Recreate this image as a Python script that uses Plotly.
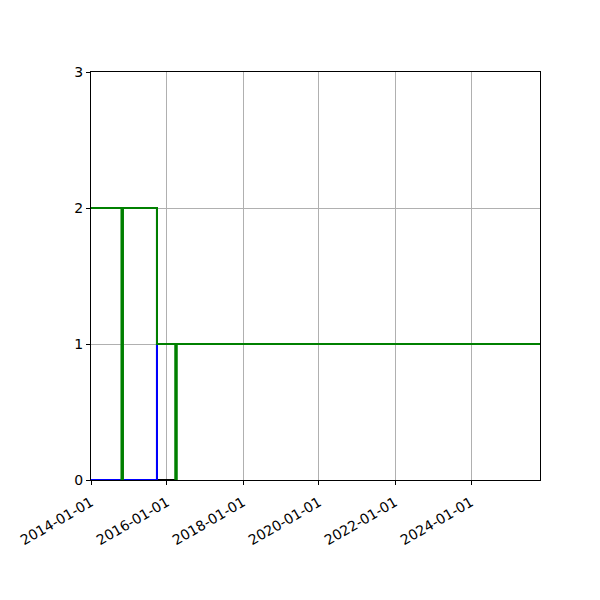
import plotly.graph_objects as go

# Step series (value holds until next date)
black_dates = ["2014-01-01", "2014-10-28", "2015-09-27", "2016-03-28", "2025-10-25"]
black_values = [0, 2, 0, 1, 1]

blue_dates = ["2014-01-01", "2015-09-27", "2025-10-25"]
blue_values = [0, 1, 1]

green_dates = ["2014-01-01", "2015-09-27", "2025-10-25"]
green_values = [2, 1, 1]

# Single-day events drawn as vertical strokes from 0
event_dates = ["2014-10-28", "2016-03-28"]
event_values = [2, 1]

x_start, x_end = "2014-01-01", "2025-10-25"
tick_dates = ["2014-01-01", "2016-01-01", "2018-01-01", "2020-01-01", "2022-01-01", "2024-01-01"]

fig = go.Figure()

fig.add_trace(go.Scatter(x=black_dates, y=black_values, mode="lines",
                         line=dict(color="black", width=2, shape="hv")))
fig.add_trace(go.Scatter(x=blue_dates, y=blue_values, mode="lines",
                         line=dict(color="#0000ff", width=2, shape="hv")))
fig.add_trace(go.Scatter(x=green_dates, y=green_values, mode="lines",
                         line=dict(color="#008000", width=2, shape="hv")))

ev_x, ev_y = [], []
for d, v in zip(event_dates, event_values):
    ev_x += [d, d, None]
    ev_y += [0, v, None]
fig.add_trace(go.Scatter(x=ev_x, y=ev_y, mode="lines",
                         line=dict(color="#008000", width=3.5)))

axis_style = dict(showline=True, linecolor="black", linewidth=1, mirror=True,
                  ticks="outside", ticklen=4, tickcolor="black", automargin=False,
                  showgrid=True, gridcolor="#b0b0b0", gridwidth=1, zeroline=False)

# page body adds an 8px offset, so margins are shifted to compensate
fig.update_layout(
    width=600, height=600,
    margin=dict(l=83, r=68, t=64, b=128),
    plot_bgcolor="white", paper_bgcolor="white",
    showlegend=False,
    font=dict(family="DejaVu Sans", size=14, color="black"),
    xaxis=dict(range=[x_start, x_end], tickvals=tick_dates, tickformat="%Y-%m-%d",
               tickangle=-30, ticklabelstandoff=4, **axis_style),
    yaxis=dict(range=[0, 3], tickvals=[0, 1, 2, 3], **axis_style),
)

fig.write_html("out.html")
